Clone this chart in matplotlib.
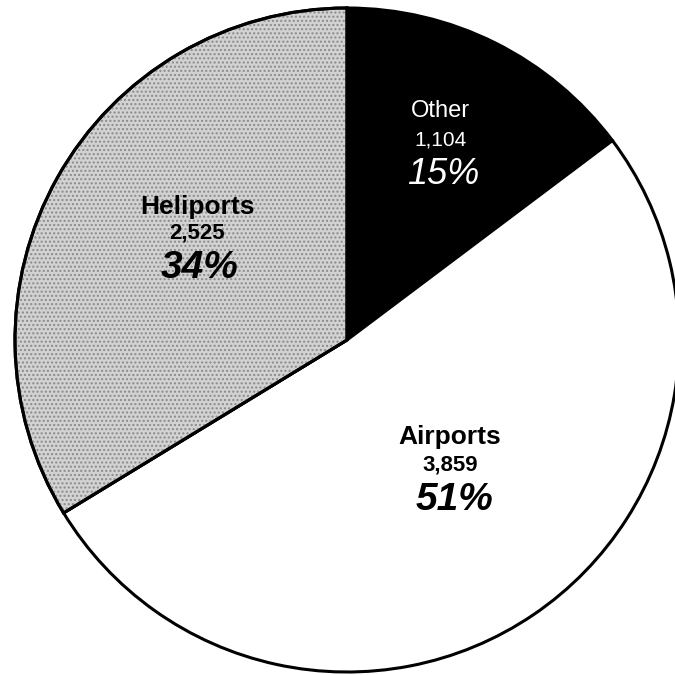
import matplotlib.pyplot as plt
from matplotlib.patches import Wedge

# data, clockwise from 12 o'clock
labels = ['Other', 'Airports', 'Heliports']
counts = [1104, 3859, 2525]
pcts = ['15%', '51%', '34%']
colors = ['black', 'white', '#d2d2d2']

plt.rcParams['font.family'] = ['Liberation Sans', 'DejaVu Sans']

fig = plt.figure(figsize=(6.75, 6.75), dpi=100)
ax = fig.add_axes([0, 0, 1, 1])
ax.set_xlim(0, 675)
ax.set_ylim(0, 675)
ax.set_aspect('equal')
ax.axis('off')

cx, cy, r = 347, 335, 332
wedges, _ = ax.pie(counts, colors=colors, startangle=90, counterclock=False,
                   center=(cx, cy), radius=r, frame=True,
                   wedgeprops=dict(edgecolor='black', linewidth=2.2))
ax.set_xlim(0, 675)
ax.set_ylim(0, 675)
ax.axis('off')

# stipple on the heliports slice
w = wedges[2]
ax.add_patch(Wedge(w.center, w.r, w.theta1, w.theta2, facecolor='none',
                   edgecolor='#8a8a8a', hatch='....', linewidth=0, zorder=w.zorder + 0.1))
ax.add_patch(Wedge(w.center, w.r, w.theta1, w.theta2, facecolor='none',
                   edgecolor='black', linewidth=2.2, zorder=w.zorder + 0.2))

# label positions (pixel layout, y from top)
pos = {
    'Other': [(440, 111), (440, 140), (443, 174)],
    'Airports': [(450, 437), (450, 465), (455, 500)],
    'Heliports': [(197, 207), (197, 233), (200, 268)],
}

for lab, n, p in zip(labels, counts, pcts):
    (x1, y1), (x2, y2), (x3, y3) = pos[lab]
    if lab == 'Other':
        c, wt = 'white', 'normal'
        s1, s2, s3 = 17, 15, 26
    else:
        c, wt = 'black', 'bold'
        s1, s2, s3 = 19, 16, 28
    ax.text(x1, 675 - y1, lab, color=c, fontsize=s1, fontweight=wt,
            ha='center', va='center', zorder=10)
    ax.text(x2, 675 - y2, f'{n:,}', color=c, fontsize=s2, fontweight=wt,
            ha='center', va='center', zorder=10)
    ax.text(x3, 675 - y3, p, color=c, fontsize=s3, fontweight=wt, style='italic',
            ha='center', va='center', zorder=10)

plt.savefig('out.png', dpi=100)
